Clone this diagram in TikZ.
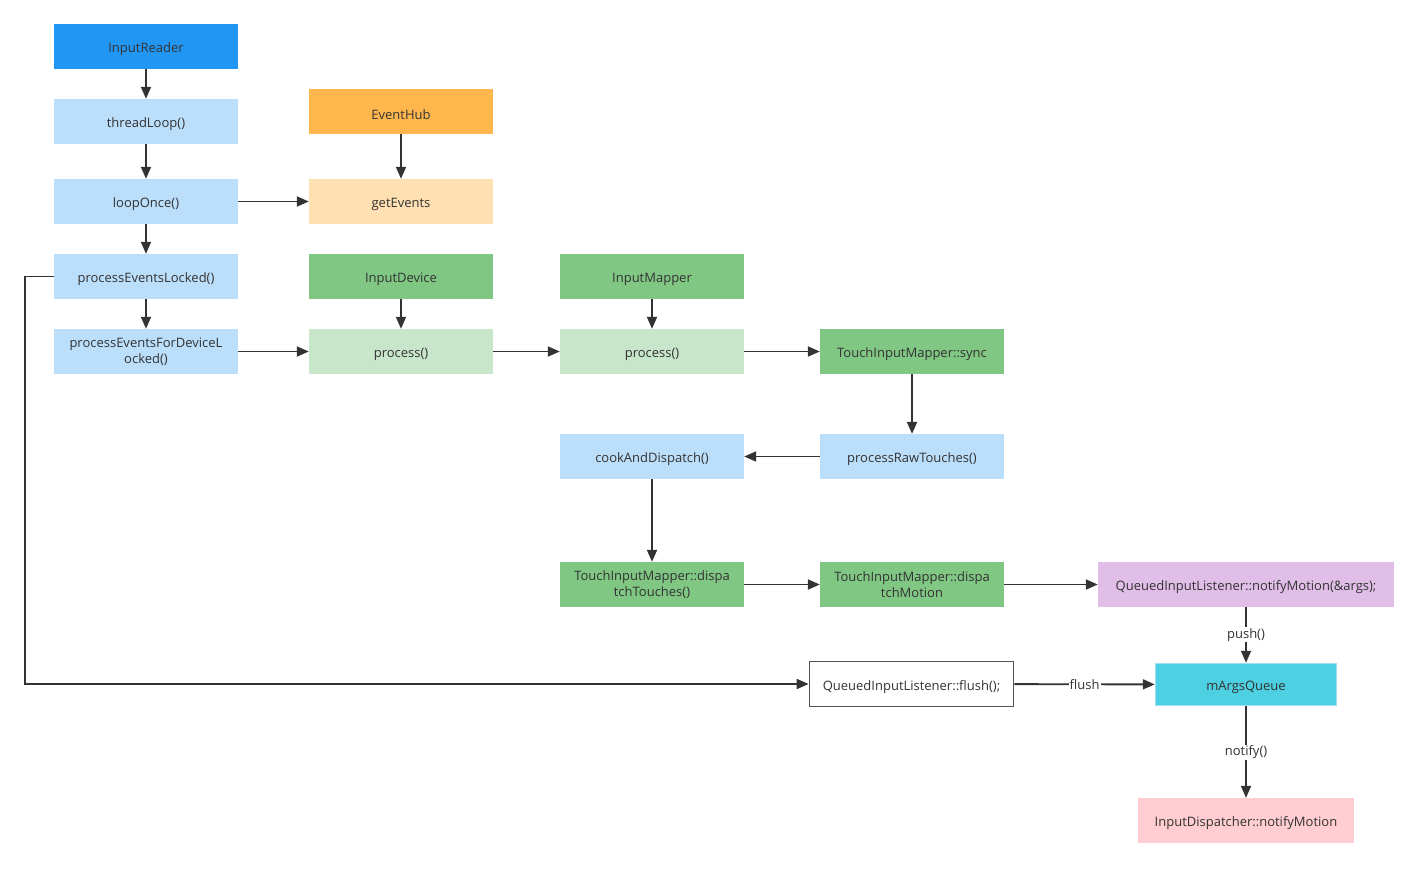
\documentclass[tikz,border=0pt]{standalone}
\usepackage{fontspec}
\setmainfont{Open Sans}
\usetikzlibrary{arrows.meta}
\definecolor{txt}{HTML}{333333}
\definecolor{cIR}{HTML}{2196F3}
\definecolor{cLB}{HTML}{BBDEFB}
\definecolor{cOr}{HTML}{FFB74D}
\definecolor{cOrL}{HTML}{FFE0B2}
\definecolor{cG}{HTML}{81C784}
\definecolor{cGL}{HTML}{C8E6C9}
\definecolor{cPu}{HTML}{E1BEE7}
\definecolor{cCy}{HTML}{4DD0E1}
\definecolor{cCyB}{HTML}{A8DDF8}
\definecolor{cPk}{HTML}{FFCDD2}
\definecolor{lineC}{HTML}{333333}
\tikzset{
  box/.style={rectangle, draw=none, minimum width=184pt, minimum height=45pt, inner sep=0pt,
    text=txt, align=center, font=\fontsize{13}{16}\selectfont,
    execute at begin node={\rule{0pt}{15.5pt}}},
  twoline/.style={execute at begin node={\rule{0pt}{19pt}}},
  conn/.style={draw=lineC, line width=1.9pt, -{Triangle[length=12pt,width=10pt]}},
  lbl/.style={fill=white, inner sep=1pt, text=txt, font=\fontsize{13}{15}\selectfont}
}
\begin{document}
\begin{tikzpicture}[x=1pt,y=-1pt]
\useasboundingbox (0,0) rectangle (1417,868);
\node[box, fill=cIR] (ir) at (146,46.5) {InputReader};
\node[box, fill=cLB] (tl) at (146,121.5) {threadLoop()};
\node[box, fill=cLB] (lo) at (146,201.5) {loopOnce()};
\node[box, fill=cLB] (pel) at (146,276.5) {processEventsLocked()};
\node[box, twoline, fill=cLB] (pefd) at (146,351.5) {processEventsForDeviceL\\ocked()};
\node[box, fill=cOr] (eh) at (401,111.5) {EventHub};
\node[box, fill=cOrL] (ge) at (401,201.5) {getEvents};
\node[box, fill=cG] (idv) at (401,276.5) {InputDevice};
\node[box, fill=cGL] (p1) at (401,351.5) {process()};
\node[box, fill=cG] (im) at (652,276.5) {InputMapper};
\node[box, fill=cGL] (p2) at (652,351.5) {process()};
\node[box, fill=cG] (sync) at (912,351.5) {TouchInputMapper::sync};
\node[box, fill=cLB] (prt) at (912,456.5) {processRawTouches()};
\node[box, fill=cLB] (cad) at (652,456.5) {cookAndDispatch()};
\node[box, twoline, fill=cG] (dt) at (652,584.5) {TouchInputMapper::dispa\\tchTouches()};
\node[box, twoline, fill=cG] (dm) at (912,584.5) {TouchInputMapper::dispa\\tchMotion};
\node[box, fill=cPu, minimum width=296pt] (nm) at (1246,584.5) {QueuedInputListener::notifyMotion(\&args);};
\node[box, fill=cCy, draw=cCyB, line width=1.5pt, minimum width=181pt, minimum height=42pt] (maq) at (1246,684.5) {mArgsQueue};
\node[box, fill=white, draw=lineC!85, line width=1.8pt, minimum width=204pt, minimum height=45pt] (fl) at (911.5,684) {QueuedInputListener::flush();};
\node[box, fill=cPk, minimum width=216pt] (idn) at (1246,820.5) {InputDispatcher::notifyMotion};
\coordinate (c1) at (25,276.5);
\coordinate (c2) at (25,684);

\draw[conn] (ir) -- (tl);
\draw[conn] (tl) -- (lo);
\draw[conn] (lo) -- (pel);
\draw[conn] (pel) -- (pefd);
\draw[conn] (lo) -- (ge);
\draw[conn] (eh) -- (ge);
\draw[conn] (idv) -- (p1);
\draw[conn] (pefd) -- (p1);
\draw[conn] (im) -- (p2);
\draw[conn] (p1) -- (p2);
\draw[conn] (p2) -- (sync);
\draw[conn] (sync) -- (prt);
\draw[conn] (prt) -- (cad);
\draw[conn] (cad) -- (dt);
\draw[conn] (dt) -- (dm);
\draw[conn] (dm) -- (nm);
\draw[conn] (nm) -- node[lbl] {push()} (maq);
\draw[conn] (fl) -- node[lbl] {flush} (maq);
\draw[conn] (maq) -- node[lbl] {notify()} (idn);
\draw[conn] (pel.west) -- (c1) -- (c2) -- (fl.west);
\end{tikzpicture}
\end{document}
